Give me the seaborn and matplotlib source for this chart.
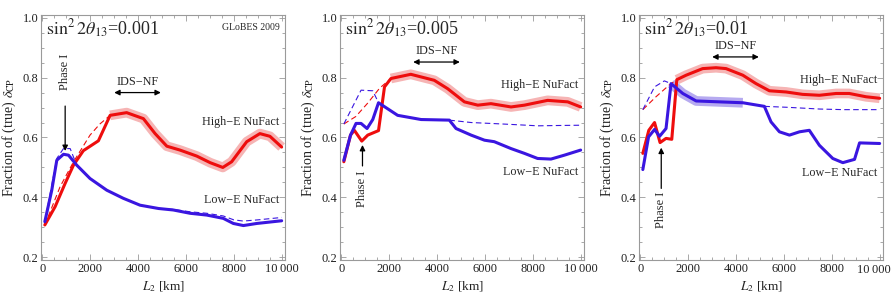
"""Fraction of (true) delta_CP vs. L2 for three values of sin^2 2theta13."""

import matplotlib

matplotlib.use('Agg')

import matplotlib.pyplot as plt
import pandas as pd
import seaborn as sns
from matplotlib.ticker import FuncFormatter, MultipleLocator

# ---- data ----
theta_labels = ['0.001', '0.005', '0.01']

# sin^2 2theta13 = 0.001
hi1_x = [100, 530, 950, 1300, 1710, 2340, 2830, 3520, 4220, 4710, 5200, 5750,
         6450, 7010, 7540, 7910, 8540, 9090, 9510, 10000]
hi1_y = [0.308, 0.369, 0.447, 0.508, 0.556, 0.589, 0.674, 0.683, 0.663, 0.613,
         0.571, 0.558, 0.538, 0.516, 0.500, 0.519, 0.586, 0.613, 0.604, 0.568]
hi1_dash_x = [100, 740, 1300, 1990, 2400, 2830]
hi1_dash_y = [0.308, 0.436, 0.519, 0.608, 0.645, 0.674]
lo1_x = [100, 390, 600, 880, 1090, 1430, 1990, 2690, 3380, 4080, 4850, 5470,
         6170, 6870, 7560, 7980, 8400, 8960, 10000]
lo1_y = [0.319, 0.424, 0.524, 0.544, 0.541, 0.508, 0.463, 0.424, 0.397, 0.374,
         0.363, 0.358, 0.347, 0.341, 0.330, 0.313, 0.306, 0.313, 0.322]
lo1_dash_x = [[100, 600, 880, 1160, 1430],
              [4850, 5470, 6170, 6870, 7560, 8000, 8400, 9000, 10000]]
lo1_dash_y = [[0.319, 0.530, 0.563, 0.563, 0.508],
              [0.363, 0.360, 0.352, 0.347, 0.338, 0.325, 0.321, 0.325, 0.333]]

# sin^2 2theta13 = 0.005
hi2_x = [100, 380, 540, 850, 1100, 1550, 1800, 2070, 2900, 3880, 4440, 5140,
         5700, 6250, 7090, 7650, 8620, 9460, 10000]
hi2_y = [0.519, 0.608, 0.624, 0.588, 0.608, 0.623, 0.769, 0.797, 0.811, 0.791,
         0.763, 0.719, 0.708, 0.713, 0.702, 0.708, 0.724, 0.719, 0.702]
hi2_dash_x = [100, 600, 1100, 1600, 2070]
hi2_dash_y = [0.645, 0.670, 0.715, 0.765, 0.797]
lo2_x = [100, 380, 610, 820, 1070, 1310, 1550, 2350, 3330, 4510, 4790, 5420,
         5980, 6390, 7090, 7650, 8200, 8760, 9320, 10000]
lo2_y = [0.524, 0.608, 0.647, 0.647, 0.630, 0.660, 0.716, 0.674, 0.660, 0.658,
         0.630, 0.608, 0.591, 0.586, 0.563, 0.547, 0.530, 0.528, 0.541, 0.558]
lo2_dash_x = [[100, 820, 1310, 1550],
              [4510, 5420, 6500, 7500, 8200, 9000, 10000]]
lo2_dash_y = [[0.645, 0.758, 0.756, 0.716],
              [0.658, 0.650, 0.646, 0.642, 0.639, 0.640, 0.641]]

# sin^2 2theta13 = 0.01
hi3_x = [100, 350, 590, 820, 1070, 1310, 1520, 1910, 2600, 3160, 3580, 4280,
         4830, 5390, 6090, 6780, 7480, 8180, 8730, 9430, 10000]
hi3_y = [0.547, 0.624, 0.650, 0.583, 0.597, 0.594, 0.793, 0.808, 0.830, 0.833,
         0.830, 0.808, 0.780, 0.756, 0.752, 0.744, 0.741, 0.747, 0.747, 0.736,
         0.731]
hi3_dash_x = [100, 650, 1200, 1520]
hi3_dash_y = [0.693, 0.736, 0.775, 0.793]
lo3_x = [100, 340, 590, 800, 1070, 1280, 1770, 2330, 3300, 4280, 5180, 5460,
         5810, 6230, 6650, 7060, 7480, 8040, 8460, 8950, 9160, 10000]
lo3_y = [0.493, 0.602, 0.627, 0.604, 0.630, 0.780, 0.747, 0.722, 0.719, 0.716,
         0.704, 0.652, 0.619, 0.608, 0.619, 0.624, 0.574, 0.530, 0.516, 0.527,
         0.582, 0.580]
lo3_dash_x = [[100, 590, 1000, 1280],
              [5180, 6100, 7500, 8500, 10000]]
lo3_dash_y = [[0.693, 0.769, 0.789, 0.780],
              [0.704, 0.701, 0.695, 0.693, 0.693]]

# highlighted ranges (L2 from, to) for high-E and low-E curves
hi_band = [(2830, 10000), (2070, 10000), (1520, 10000)]
lo_band = [None, None, (1280, 4280)]

panels = [
    (hi1_x, hi1_y, hi1_dash_x, hi1_dash_y, lo1_x, lo1_y, lo1_dash_x, lo1_dash_y),
    (hi2_x, hi2_y, hi2_dash_x, hi2_dash_y, lo2_x, lo2_y, lo2_dash_x, lo2_dash_y),
    (hi3_x, hi3_y, hi3_dash_x, hi3_dash_y, lo3_x, lo3_y, lo3_dash_x, lo3_dash_y),
]

# annotation anchors
phase_x = [950, 880, 870]
phase_text_y = [0.818, 0.430, 0.357]
phase_tail_y = [0.705, 0.505, 0.430]
phase_head_y = [0.555, 0.575, 0.566]
ids_y = [0.750, 0.852, 0.869]
hi_label_y = [0.653, 0.776, 0.793]
lo_label_y = [0.390, 0.485, 0.482]

RED = '#ee0d0d'
BLUE = '#3a16e0'
PINK = '#f6b4b4'
LAVENDER = '#b6aaf0'
GRAY = '#9a9a9a'
TXT = '#222222'


def segments(xs, ys):
    rows = []
    for k, (sx, sy) in enumerate(zip(xs, ys)):
        rows += [{'seg': k, 'L': a, 'f': b} for a, b in zip(sx, sy)]
    return pd.DataFrame(rows)


def band(x, y, rng):
    df = pd.DataFrame({'L': x, 'f': y})
    return df[(df.L >= rng[0]) & (df.L <= rng[1])]


def xfmt(last_label):
    def f(v, p):
        if round(v) == 10000:
            return last_label
        return f'{v:.0f}'
    return FuncFormatter(f)


def main() -> None:
    sns.set_theme(style='ticks')
    plt.rcParams['font.family'] = ['Liberation Serif', 'DejaVu Serif']
    plt.rcParams['mathtext.fontset'] = 'stix'

    fig = plt.figure(figsize=(8.93, 3.08), dpi=100)
    lefts = [41 / 893, 340 / 893, 639 / 893]
    for i, left in enumerate(lefts):
        ax = fig.add_axes([left, 48 / 308, 244 / 893, 245 / 308])
        hx, hy, hdx, hdy, lx, ly, ldx, ldy = panels[i]

        # highlight bands
        bh = band(hx, hy, hi_band[i])
        sns.lineplot(data=bh, x='L', y='f', color=PINK, lw=7.0, ax=ax,
                     zorder=1, solid_capstyle='butt')
        if lo_band[i] is not None:
            bl = band(lx, ly, lo_band[i])
            sns.lineplot(data=bl, x='L', y='f', color=LAVENDER, lw=7.0, ax=ax,
                         zorder=1, solid_capstyle='butt')

        # dashed alternatives
        sns.lineplot(x=hdx, y=hdy, color=RED, lw=0.8, ax=ax, zorder=2,
                     linestyle=(0, (5, 3)))
        dl = segments(ldx, ldy)
        sns.lineplot(data=dl, x='L', y='f', units='seg', estimator=None,
                     color=BLUE, lw=0.8, ax=ax, zorder=2,
                     linestyle=(0, (5, 3)))

        # main curves
        sns.lineplot(x=hx, y=hy, color=RED, lw=2.2, ax=ax, zorder=3)
        sns.lineplot(x=lx, y=ly, color=BLUE, lw=2.2, ax=ax, zorder=3)

        ax.set_xlim(-60, 10140)
        ax.set_ylim(0.191, 1.009)
        ax.xaxis.set_major_locator(MultipleLocator(2000))
        ax.xaxis.set_minor_locator(MultipleLocator(500))
        ax.yaxis.set_major_locator(MultipleLocator(0.2))
        ax.yaxis.set_minor_locator(MultipleLocator(0.05))
        # last panel: the 10 000 label is placed by hand so it stays inside
        ax.xaxis.set_major_formatter(xfmt('' if i == 2 else '10\u2009000'))
        ax.yaxis.set_major_formatter(FuncFormatter(lambda v, p: f'{v:.1f}'))
        ax.tick_params(which='both', direction='in', top=True, right=True,
                       color=GRAY, width=0.6, labelsize=9, pad=2,
                       labelcolor=TXT)
        ax.tick_params(which='major', length=4)
        ax.tick_params(which='minor', length=2.2)
        for s in ax.spines.values():
            s.set_color(GRAY)
            s.set_linewidth(0.8)
        if i == 2:
            ax.annotate('10\u2009000', xy=(10000, 0), xycoords=('data', 'axes fraction'),
                        xytext=(-4, -3), textcoords='offset points',
                        ha='center', va='top', fontsize=9, color=TXT)

        ax.set_xlabel(r'$L_2$ [km]', fontsize=9.5, labelpad=3, color=TXT)
        ax.set_ylabel(r'Fraction of (true) $\delta_{\rm CP}$', fontsize=10,
                      labelpad=3, color=TXT)

        ax.text(140, 0.962, r'$\sin^2 2\theta_{13}$=' + theta_labels[i],
                fontsize=13, va='center', ha='left')
        if i == 0:
            ax.text(9900, 0.967, 'GLoBES 2009', fontsize=7, ha='right',
                    va='center')

        # Phase I marker
        px = phase_x[i]
        ax.text(px, phase_text_y[i], 'Phase I', rotation=90,
                fontsize=9, ha='center', va='center')
        ax.annotate('', xy=(px, phase_head_y[i]), xytext=(px, phase_tail_y[i]),
                    arrowprops=dict(arrowstyle='-|>', color='black', lw=0.9,
                                    mutation_scale=8, shrinkA=0, shrinkB=0))

        # IDS-NF range
        ax.annotate('', xy=(3000, ids_y[i]), xytext=(4950, ids_y[i]),
                    arrowprops=dict(arrowstyle='<|-|>', color='black', lw=0.9,
                                    mutation_scale=8, shrinkA=0, shrinkB=0))
        ax.text(3970, ids_y[i] + 0.036, 'IDS\u2212NF', fontsize=8.8,
                ha='center', va='center')

        ax.text(9900, hi_label_y[i], 'High\u2212E NuFact', fontsize=8.7,
                ha='right', va='center')
        ax.text(9900, lo_label_y[i], 'Low\u2212E NuFact', fontsize=8.7,
                ha='right', va='center')

    fig.savefig('out.png', dpi=100)
    plt.close(fig)


if __name__ == '__main__':
    main()
